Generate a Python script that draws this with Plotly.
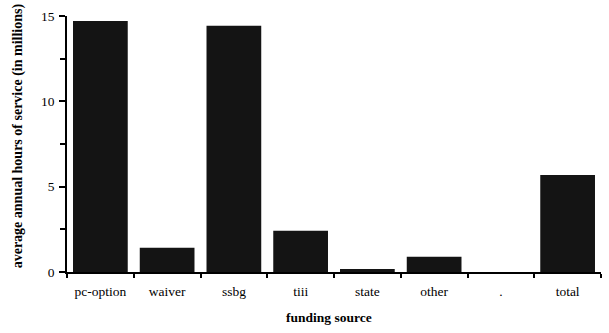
import plotly.graph_objects as go

categories = ["pc-option", "waiver", "ssbg", "tiii", "state", "other", ".", "total"]
values = [14.7, 1.42, 14.43, 2.42, 0.18, 0.9, 0.0, 5.68]

fig = go.Figure()
fig.add_trace(go.Bar(x=categories, y=values, marker=dict(color="#141414", line=dict(width=0)), width=0.82))

fig.update_layout(
    width=609, height=333,
    margin=dict(l=67, r=8, t=16, b=61),
    plot_bgcolor="white", paper_bgcolor="white",
    showlegend=False,
    font=dict(family="Liberation Serif, Times New Roman, serif", size=13, color="black"),
    bargap=0.18,
)
fig.update_xaxes(
    type="category", showline=True, linecolor="black", linewidth=1.5,
    ticks="outside", tickson="boundaries", ticklen=4, tickcolor="black", tickwidth=1.5,
    showgrid=False, zeroline=False, tickfont=dict(size=13.5), ticklabelstandoff=6,
)
fig.update_yaxes(
    range=[0, 15], dtick=5, tick0=0, showline=True, linecolor="black", linewidth=1.5,
    ticks="outside", ticklen=6, tickcolor="black", tickwidth=1.5,
    minor=dict(dtick=2.5, ticks="outside", ticklen=5, tickcolor="black", tickwidth=1.5),
    showgrid=False, zeroline=False, tickfont=dict(size=13.5), ticklabelstandoff=2,
)
fig.add_annotation(
    text="<b>average annual hours of service (in millions)</b>", textangle=-90,
    xref="paper", yref="paper", x=0, y=0.53, xanchor="center", yanchor="middle",
    xshift=-49, showarrow=False, font=dict(size=14),
)
fig.add_annotation(
    text="<b>funding source</b>", xref="paper", yref="paper", x=0.49, y=0,
    xanchor="center", yanchor="middle", yshift=-45, showarrow=False, font=dict(size=13.5),
)
fig.write_html("out.html")
